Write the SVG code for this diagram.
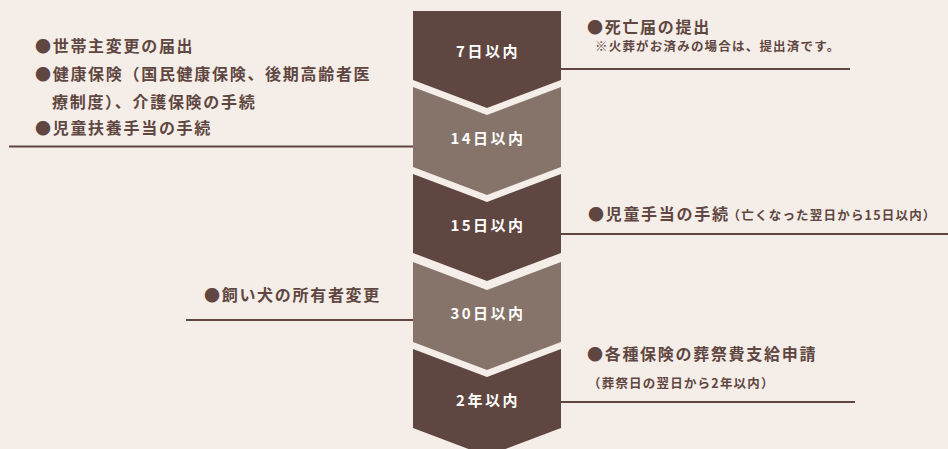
<svg xmlns="http://www.w3.org/2000/svg" width="948" height="449" viewBox="0 0 948 449">
<style>
.bg{fill:#F5EEE8}
.dark{fill:#5F4640}
.light{fill:#86746A}
.lbl{font-family:"Noto Sans CJK JP","Noto Sans",sans-serif;font-weight:700;font-size:15px;fill:#FFFFFF;text-anchor:middle;letter-spacing:2.5px}
.t{font-family:"Noto Sans CJK JP","Noto Sans",sans-serif;font-weight:700;font-size:16px;fill:#5F4640;letter-spacing:1.7px}
.s{font-family:"Noto Sans CJK JP","Noto Sans",sans-serif;font-weight:700;font-size:12.5px;fill:#5F4640;letter-spacing:1.2px}
.ln{stroke:#5F4640;stroke-width:2;fill:none}
</style>
<rect class="bg" x="0" y="0" width="948" height="449"/>
<g id="connectors">
<line class="ln" x1="9" y1="146.5" x2="413" y2="146.5"/>
<line class="ln" x1="561" y1="69" x2="850" y2="69"/>
<line class="ln" x1="561" y1="234" x2="948" y2="234"/>
<line class="ln" x1="186" y1="320" x2="413" y2="320"/>
<line class="ln" x1="561" y1="402" x2="855" y2="402"/>
</g>
<g id="step-7days">
<polygon class="dark" points="413,11 561,11 561,80 487,108 413,80"/>
<text class="lbl" x="488" y="57">7日以内</text>
</g>
<g id="step-14days">
<polygon class="light" points="413,87 487,115 561,87 561,167 487,195 413,167"/>
<text class="lbl" x="488" y="144">14日以内</text>
</g>
<g id="step-15days">
<polygon class="dark" points="413,174 487,202 561,174 561,253 487,281 413,253"/>
<text class="lbl" x="488" y="231">15日以内</text>
</g>
<g id="step-30days">
<polygon class="light" points="413,262 487,290 561,262 561,342 487,370 413,342"/>
<text class="lbl" x="488" y="319">30日以内</text>
</g>
<g id="step-2years">
<polygon class="dark" points="413,349 487,377 561,349 561,428 487,456 413,428"/>
<text class="lbl" x="488" y="406">2年以内</text>
</g>
<g id="item-14days">
<text class="t" x="35" y="52">●世帯主変更の届出</text>
<text class="t" x="35" y="80">●健康保険（国民健康保険、後期高齢者医</text>
<text class="t" x="52" y="108">療制度）、介護保険の手続</text>
<text class="t" x="35" y="134">●児童扶養手当の手続</text>
</g>
<g id="item-7days">
<text class="t" x="587" y="33">●死亡届の提出</text>
<text class="s" x="595" y="51">※火葬がお済みの場合は、提出済です。</text>
</g>
<g id="item-15days">
<text class="t" x="588" y="220">●児童手当の手続<tspan class="s" dx="-2">（亡くなった翌日から15日以内）</tspan></text>
</g>
<g id="item-30days">
<text class="t" x="204" y="301">●飼い犬の所有者変更</text>
</g>
<g id="item-2years">
<text class="t" x="587" y="360">●各種保険の葬祭費支給申請</text>
<text class="s" x="588" y="388">（葬祭日の翌日から2年以内）</text>
</g>
</svg>
